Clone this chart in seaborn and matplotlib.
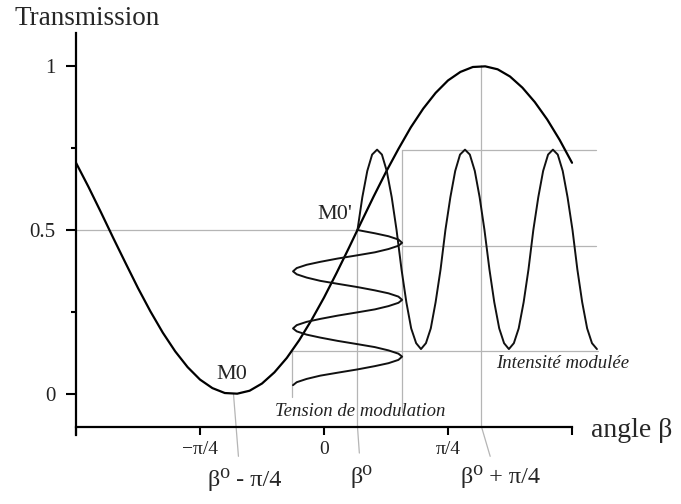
import matplotlib
matplotlib.use("Agg")
import matplotlib.pyplot as plt
import seaborn as sns

# angle beta in units of pi/4, transmission
BETA = [-2.0, -1.9, -1.8, -1.7, -1.6, -1.5, -1.4, -1.3, -1.2, -1.1,
        -1.0, -0.9, -0.8, -0.7, -0.6, -0.5, -0.4, -0.3, -0.2, -0.1,
        0.0, 0.1, 0.2, 0.3, 0.4, 0.5, 0.6, 0.7, 0.8, 0.9,
        1.0, 1.1, 1.2, 1.3, 1.4, 1.5, 1.6, 1.7, 1.8, 1.9, 2.0]
TRANSMISSION = [0.705, 0.632, 0.555, 0.476, 0.399, 0.323, 0.252, 0.187, 0.130, 0.082,
                0.044, 0.018, 0.003, 0.001, 0.010, 0.032, 0.066, 0.110, 0.164, 0.226,
                0.294, 0.368, 0.445, 0.524, 0.602, 0.677, 0.747, 0.813, 0.870, 0.918,
                0.956, 0.982, 0.997, 0.999, 0.990, 0.968, 0.934, 0.890, 0.837, 0.775, 0.705]

# modulation voltage (drawn vertically, time running downward)
TENSION_BETA = [0.27, 0.41, 0.52, 0.60, 0.63, 0.60, 0.52, 0.41, 0.27, 0.11,
                -0.03, -0.14, -0.22, -0.25, -0.22, -0.14, -0.03, 0.11,
                0.27, 0.41, 0.52, 0.60, 0.63, 0.60, 0.52, 0.41, 0.27, 0.11,
                -0.03, -0.14, -0.22, -0.25, -0.22, -0.14, -0.03, 0.11,
                0.27, 0.41, 0.52, 0.60, 0.63, 0.60, 0.52, 0.41, 0.27, 0.11,
                -0.03, -0.14, -0.22, -0.25]
TENSION_TIME = [0.500, 0.490, 0.481, 0.471, 0.461, 0.452, 0.442, 0.432, 0.423, 0.413,
                0.403, 0.394, 0.384, 0.374, 0.365, 0.355, 0.345, 0.336, 0.326, 0.316,
                0.307, 0.297, 0.287, 0.278, 0.268, 0.258, 0.249, 0.239, 0.229, 0.220,
                0.210, 0.200, 0.191, 0.181, 0.172, 0.162, 0.152, 0.143, 0.133, 0.123,
                0.114, 0.104, 0.094, 0.085, 0.075, 0.065, 0.056, 0.046, 0.036, 0.027]

# modulated intensity (time running to the right)
INTENSITY_TIME = [0.270, 0.309, 0.349, 0.388, 0.428, 0.467, 0.506, 0.546, 0.585, 0.625,
                  0.664, 0.703, 0.743, 0.782, 0.822, 0.861, 0.900, 0.940, 0.979, 1.019,
                  1.058, 1.097, 1.137, 1.176, 1.216, 1.255, 1.294, 1.334, 1.373, 1.413,
                  1.452, 1.491, 1.531, 1.570, 1.610, 1.649, 1.688, 1.728, 1.767, 1.807,
                  1.846, 1.885, 1.925, 1.964, 2.004, 2.043, 2.082, 2.122, 2.161, 2.201]
INTENSITY = [0.50, 0.60, 0.68, 0.73, 0.745, 0.73, 0.68, 0.60, 0.50, 0.38,
             0.28, 0.20, 0.155, 0.137, 0.155, 0.20, 0.28, 0.38,
             0.50, 0.60, 0.68, 0.73, 0.745, 0.73, 0.68, 0.60, 0.50, 0.38,
             0.28, 0.20, 0.155, 0.137, 0.155, 0.20, 0.28, 0.38,
             0.50, 0.60, 0.68, 0.73, 0.745, 0.73, 0.68, 0.60, 0.50, 0.38,
             0.28, 0.20, 0.155, 0.137]

# key points
BETA_MIN = -0.73      # M0
BETA0 = 0.27          # M0'
BETA_MAX = 1.27       # beta0 + pi/4
T_HIGH, T_MID, T_LOW = 0.744, 0.451, 0.131
V_HIGH, V_LOW = 0.63, -0.26
X_AXIS_Y = -0.10

YTICKS = [0, 0.5, 1]
YTICK_LABELS = ["0", "0.5", "1"]
XTICKS = [-2, -1, 0, 1, 2]
XTICK_LABELS = ["", "\u2212\u03c0/4", "0", "\u03c0/4", ""]

sns.set_theme(style="ticks")
plt.rcParams["font.family"] = ["Liberation Serif", "STIXGeneral", "DejaVu Serif"]

fig = plt.figure(figsize=(6.81, 5.04), dpi=100)
ax = fig.add_axes([0.1116, 0.023, 0.8012, 0.9111])
ax.set_xlim(-2, 2.4)
ax.set_ylim(-0.30, 1.10)

# gray guide lines
guide = dict(color="#b5b5b5", lw=0.9, zorder=1)
ax.plot([-2, BETA0], [0.5, 0.5], **guide)
ax.plot([BETA0, BETA0, 0.285], [0.5, X_AXIS_Y, -0.18], **guide)
ax.plot([BETA_MAX, BETA_MAX, 1.34], [1.0, X_AXIS_Y, -0.19], **guide)
ax.plot([BETA_MIN, -0.69], [0.0, -0.19], **guide)
ax.plot([V_HIGH, V_HIGH], [T_HIGH, -0.055], **guide)
ax.plot([V_HIGH, 2.19], [T_HIGH, T_HIGH], **guide)
ax.plot([V_HIGH, 2.19], [T_MID, T_MID], **guide)
ax.plot([V_LOW, V_LOW], [T_LOW, -0.01], **guide)
ax.plot([V_LOW, 2.21], [T_LOW, T_LOW], **guide)

# curves
sns.lineplot(x=BETA, y=TRANSMISSION, ax=ax, color="black", lw=1.6,
             sort=False, estimator=None, zorder=3)
sns.lineplot(x=TENSION_BETA, y=TENSION_TIME, ax=ax, color="#111111", lw=1.4,
             sort=False, estimator=None, zorder=3)
sns.lineplot(x=INTENSITY_TIME, y=INTENSITY, ax=ax, color="#111111", lw=1.4,
             sort=False, estimator=None, zorder=3)

# axes styling
for side in ["top", "right"]:
    ax.spines[side].set_visible(False)
ax.spines["bottom"].set_position(("data", X_AXIS_Y))
ax.spines["bottom"].set_bounds(-2, 2)
ax.spines["left"].set_bounds(-0.125, 1.1)
for side in ["left", "bottom"]:
    ax.spines[side].set_linewidth(1.6)
    ax.spines[side].set_color("black")

ax.set_yticks(YTICKS)
ax.set_yticklabels(YTICK_LABELS)
ax.set_yticks([0.25, 0.75], minor=True)
ax.set_xticks(XTICKS)
ax.set_xticklabels(XTICK_LABELS)
ax.tick_params(axis="y", which="major", direction="out", length=7, width=1.5,
               pad=8, labelsize=15, colors="black", labelcolor="#222222")
ax.tick_params(axis="y", which="minor", direction="out", length=3.5, width=1.5,
               left=True, color="black")
ax.tick_params(axis="x", which="major", direction="out", length=6, width=1.5,
               pad=4, labelsize=14, colors="black", labelcolor="#222222")
ax.set_xlabel("")
ax.set_ylabel("")

# labels
fig.text(0.022, 0.964, "Transmission", fontsize=19.5, ha="left", va="center")
ax.text(2.15, -0.11, "angle \u03b2", fontsize=20, ha="left", va="center",
        clip_on=False)
ax.text(-0.742, 0.058, "M0", fontsize=16, ha="center", va="center")
ax.text(0.085, 0.546, "M0'", fontsize=16, ha="center", va="center")
ax.text(-0.637, -0.262, "\u03b2\u2070 - \u03c0/4", fontsize=17.5, ha="center", va="center")
ax.text(0.30, -0.253, "\u03b2\u2070", fontsize=17.5, ha="center", va="center")
ax.text(1.42, -0.253, "\u03b2\u2070 + \u03c0/4", fontsize=17.5, ha="center", va="center")
ax.text(0.29, -0.052, "Tension de modulation", fontsize=13.5, style="italic",
        ha="center", va="center", color="#222222")
ax.text(1.927, 0.0945, "Intensit\u00e9 modul\u00e9e", fontsize=13.5, style="italic",
        ha="center", va="center", color="#222222")

fig.savefig("out.png", dpi=100)
plt.close(fig)
